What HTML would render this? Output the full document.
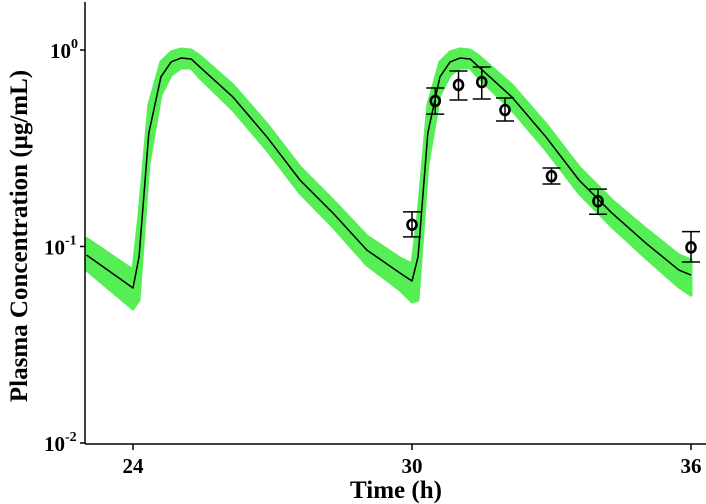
<!DOCTYPE html>
<html><head><meta charset="utf-8"><style>
body{margin:0;background:#fff;}
svg{display:block;font-family:"Liberation Serif",serif;font-weight:bold;}
</style></head><body>
<svg id="chart" width="706" height="504" viewBox="0 0 706 504">
<g id="band"></g>
<g id="line"></g>
<g id="obs"></g>
<g id="axes"></g>
</svg>
<script>
const curveTimes=[23.0,24.0,24.13,24.34,24.6,24.82,25.03,25.25,25.44,26.15,26.88,27.59,28.30,29.03,29.74,30.0,30.13,30.34,30.6,30.82,31.03,31.25,31.44,32.15,32.88,33.59,34.30,35.03,35.74,36.0];
const curveConc=[0.0905,0.0615,0.0885,0.378,0.729,0.869,0.910,0.900,0.819,0.576,0.361,0.218,0.148,0.0959,0.0733,0.0667,0.0885,0.378,0.729,0.869,0.910,0.900,0.819,0.576,0.361,0.218,0.148,0.104,0.0759,0.0716];
const bandHigh=[0.110,0.0759,0.145,0.525,0.869,0.977,1.012,1.0,0.932,0.664,0.420,0.254,0.172,0.113,0.0874,0.0815,0.145,0.525,0.869,0.977,1.012,1.0,0.932,0.664,0.420,0.254,0.172,0.123,0.0905,0.0854];
const bandLow=[0.0759,0.0481,0.0534,0.260,0.590,0.746,0.810,0.810,0.720,0.495,0.310,0.187,0.126,0.0805,0.0601,0.0522,0.0534,0.260,0.590,0.746,0.810,0.810,0.720,0.495,0.310,0.187,0.126,0.0874,0.0622,0.0566];
const obsTimes=[30.0,30.5,31.0,31.5,32.0,33.0,34.0,36.0];
const obsConc=[0.129,0.55,0.664,0.687,0.495,0.228,0.170,0.099];
const obsUpper=[0.150,0.641,0.782,0.819,0.570,0.251,0.196,0.119];
const obsLower=[0.112,0.472,0.557,0.563,0.435,0.208,0.146,0.0834];
const xTicks=[24,30,36];
const yTicks=[0,-1,-2];

const NS="http://www.w3.org/2000/svg";
const X=t=>133+(t-24)*46.5;
const Y=c=>50-Math.log10(c)*196.5;
function mk(tag,attrs,parent){const e=document.createElementNS(NS,tag);for(const k in attrs)e.setAttribute(k,attrs[k]);parent.appendChild(e);return e;}

const band=document.getElementById('band');
let d="M"+curveTimes.map((t,i)=>X(t)+","+Y(bandHigh[i])).join("L");
for(let i=curveTimes.length-1;i>=0;i--)d+="L"+X(curveTimes[i])+","+Y(bandLow[i]);
d+="Z";
const bp=mk('path',{d:d,fill:'#55ef55',stroke:'#55ef55','stroke-width':3,'stroke-linejoin':'round'},band);



const line=document.getElementById('line');
const lp=mk('polyline',{points:curveTimes.map((t,i)=>X(t)+","+Y(curveConc[i])).join(" "),fill:'none',stroke:'#000','stroke-width':1.5,'stroke-linejoin':'round'},line);



const obs=document.getElementById('obs');
obsTimes.forEach((t,i)=>{
  const g=mk('g',{},obs);
  
  
  const x=X(t),yu=Y(obsUpper[i]),yl=Y(obsLower[i]);
  mk('line',{x1:x,x2:x,y1:yu,y2:yl,stroke:'#000','stroke-width':1.5},g);
  mk('line',{x1:x-9,x2:x+9,y1:yu,y2:yu,stroke:'#000','stroke-width':1.5},g);
  mk('line',{x1:x-9,x2:x+9,y1:yl,y2:yl,stroke:'#000','stroke-width':1.5},g);
  mk('ellipse',{cx:x,cy:Y(obsConc[i]),rx:4.5,ry:5,fill:'none',stroke:'#000','stroke-width':2.6},g);
});

const ax=document.getElementById('axes');
mk('line',{x1:85,x2:85,y1:2,y2:444,stroke:'#000','stroke-width':1.5},ax);
mk('line',{x1:85,x2:706,y1:444,y2:444,stroke:'#000','stroke-width':1.5},ax);
xTicks.forEach(v=>{
  const x=X(v);
  mk('line',{x1:x,x2:x,y1:444,y2:450,stroke:'#000','stroke-width':1.5},ax);
  const tx=mk('text',{x:x,y:473,'text-anchor':'middle','font-size':21},ax);
  tx.textContent=v;
  
  
});
yTicks.forEach(p=>{
  const y=Y(Math.pow(10,p));
  mk('line',{x1:80,x2:85,y1:y,y2:y,stroke:'#000','stroke-width':1.5},ax);
  const tx=mk('text',{x:p<0?44:50,y:y+8,'font-size':21},ax);
  
  
  tx.textContent="10";
  const s=mk('tspan',{dy:-10,'font-size':14},tx);
  s.textContent=p;
});
const xt=mk('text',{x:396,y:498,'text-anchor':'middle','font-size':25},ax);
xt.textContent="Time (h)";


const yt=mk('text',{x:0,y:0,'text-anchor':'middle','font-size':25,transform:'translate(27,236) rotate(-90)'},ax);
yt.textContent="Plasma Concentration (μg/mL)";


</script>
</body></html>
